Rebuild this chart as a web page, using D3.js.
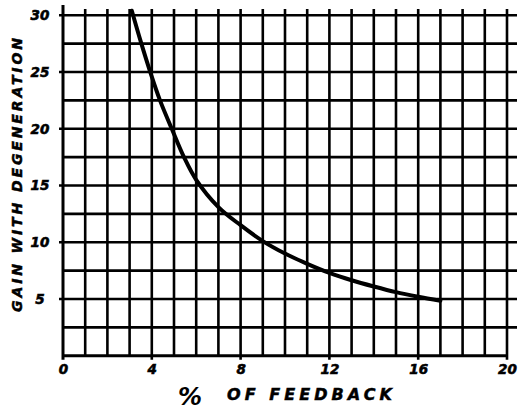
<!DOCTYPE html>
<html>
<head>
<meta charset="utf-8">
<script src="https://cdn.jsdelivr.net/npm/d3@7"></script>
<style>
  html, body { margin: 0; padding: 0; background: #fff; }
  svg { display: block; }
  text { font-family: "DejaVu Sans", sans-serif; font-weight: bold; font-style: italic; fill: #000; }
</style>
</head>
<body>
<script>
// Gain with degeneration vs. percent of feedback
const feedbackPct = [3.1, 3.5, 3.93, 4.37, 4.9, 5.45, 6, 7, 8, 9, 10, 11, 12, 13, 14, 15, 16, 17];
const gainValues  = [30.4, 27.7, 25, 22.5, 20, 17.5, 15.5, 13.1, 11.5, 10.1, 9.0, 8.1, 7.3, 6.65, 6.1, 5.6, 5.2, 4.85];

const xTickLabels = [0, 4, 8, 12, 16, 20];
const yTickLabels = [5, 10, 15, 20, 25, 30];
const xGridValues = d3.range(0, 21, 1);
const yGridValues = [0, 2.5, 5, 7.5, 10, 12.5, 15, 17.5, 20, 22.5, 25, 27.5, 30];

const W = 521, H = 411;
const svg = d3.select("body").append("svg").attr("width", W).attr("height", H);

const x = d3.scaleLinear().domain([0, 20]).range([63, 507]);
const y = d3.scaleLinear().domain([0, 30]).range([355.7, 15.3]);

// grid: vertical lines poke a little above the top rule
svg.append("g").selectAll("line").data(xGridValues).join("line")
  .attr("x1", d => x(d)).attr("x2", d => x(d))
  .attr("y1", d => d === 0 ? 5 : 9)
  .attr("y2", d => xTickLabels.includes(d) ? y(0) + 4 : y(0))
  .attr("stroke", "#000")
  .attr("stroke-width", d => d === 0 ? 3 : 2.6);

// grid: horizontal lines run slightly past the right edge
svg.append("g").selectAll("line").data(yGridValues).join("line")
  .attr("x1", d => yTickLabels.includes(d) ? x(0) - 4 : x(0))
  .attr("x2", d => d === 0 ? x(20) : 517)
  .attr("y1", d => y(d)).attr("y2", d => y(d))
  .attr("stroke", "#000")
  .attr("stroke-width", d => d === 0 ? 3 : 2.6);

// tick labels via axes with the domain path and tick lines hidden
const xAxis = svg.append("g")
  .attr("transform", `translate(0,${y(0)})`)
  .call(d3.axisBottom(x).tickValues(xTickLabels).tickSize(0).tickPadding(9));
xAxis.select(".domain").remove();
xAxis.selectAll("text")
  .attr("font-size", 13.5).attr("font-family", null)
  .attr("font-weight", "bold").attr("font-style", "italic")
  .attr("stroke", "#000").attr("stroke-width", 0.6);

const yAxis = svg.append("g")
  .attr("transform", `translate(${x(0)},0)`)
  .call(d3.axisLeft(y).tickValues(yTickLabels).tickSize(0).tickPadding(13));
yAxis.select(".domain").remove();
yAxis.selectAll("text")
  .attr("font-size", 13.5).attr("font-family", null)
  .attr("font-weight", "bold").attr("font-style", "italic")
  .attr("stroke", "#000").attr("stroke-width", 0.6)
  .attr("text-anchor", "middle").attr("x", -23);

// the curve
const line = d3.line()
  .x((d, i) => x(feedbackPct[i]))
  .y(d => y(d))
  .curve(d3.curveCatmullRom.alpha(0.5));

svg.append("path")
  .datum(gainValues)
  .attr("d", line)
  .attr("fill", "none")
  .attr("stroke", "#000")
  .attr("stroke-width", 4)
  .attr("stroke-linecap", "round");

// axis titles
svg.append("text")
  .attr("transform", "translate(22,175) rotate(-90)")
  .attr("text-anchor", "middle")
  .attr("font-size", 14)
  .attr("stroke", "#000").attr("stroke-width", 0.5)
  .attr("textLength", 274)
  .attr("lengthAdjust", "spacing")
  .text("GAIN WITH DEGENERATION");

svg.append("text")
  .attr("x", 190).attr("y", 405)
  .attr("text-anchor", "middle")
  .attr("font-size", 24)
  .text("%");

svg.append("text")
  .attr("x", 227).attr("y", 400)
  .attr("font-size", 16)
  .attr("stroke", "#000").attr("stroke-width", 0.5)
  .attr("textLength", 165)
  .attr("lengthAdjust", "spacing")
  .text("OF  FEEDBACK");
</script>
</body>
</html>
